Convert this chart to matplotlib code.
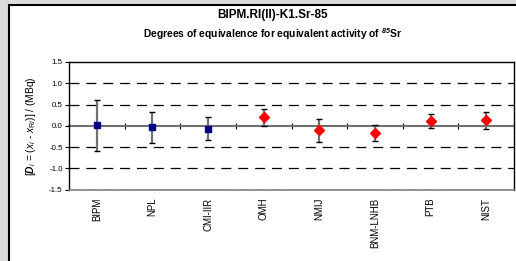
import numpy as np
import matplotlib
matplotlib.use("Agg")
import matplotlib.pyplot as plt
from matplotlib.patches import Rectangle

plt.rcParams['font.family'] = ['Liberation Sans', 'DejaVu Sans']
plt.rcParams['mathtext.fontset'] = 'custom'
plt.rcParams['mathtext.rm'] = 'Liberation Sans'
plt.rcParams['mathtext.it'] = 'Liberation Sans:italic'
plt.rcParams['mathtext.bf'] = 'Liberation Sans:bold:italic'

labs = ['BIPM', 'NPL', 'CMI-IIR', 'OMH', 'NMIJ', 'BNM-LNHB', 'PTB', 'NIST']
doe = [0.01, -0.04, -0.07, 0.195, -0.11, -0.17, 0.11, 0.125]
unc = [0.60, 0.36, 0.27, 0.195, 0.27, 0.18, 0.16, 0.21]
n_blue = 3  # first three drawn as blue squares

fig = plt.figure(figsize=(5.16, 2.61), dpi=100)
fig.patch.set_facecolor('#dcdcdc')
# white chart frame (cut off on right and bottom)
fig.patches.append(Rectangle((9/516, -0.05), 1.1, 1 - 5/261 + 0.05,
                             transform=fig.transFigure, facecolor='white',
                             edgecolor='black', linewidth=1.5, zorder=-5))

ax = fig.add_axes([69/516, 1 - 189.5/261, 445/516, 127.5/261])
ax.set_zorder(2)
ax.patch.set_alpha(0)
x = np.arange(1, len(labs) + 1)

for i in range(len(labs)):
    blue = i < n_blue
    ax.errorbar(x[i], doe[i], yerr=unc[i], fmt='none', ecolor='#707070',
                elinewidth=1.6, capsize=0, zorder=3)
    ax.errorbar(x[i], doe[i], yerr=unc[i], fmt='none', ecolor='black',
                elinewidth=0, capsize=2.5, capthick=1, zorder=3)
    if blue:
        ax.plot(x[i], doe[i], 's', color='#000080', ms=4.5, zorder=4)
    else:
        ax.plot(x[i], doe[i], 'D', color='#ff0000', ms=4.8, zorder=4)

ax.set_xlim(0.5, len(labs) + 0.5)
ax.set_ylim(-1.5, 1.5)
ax.set_yticks([-1.5, -1.0, -0.5, 0.0, 0.5, 1.0, 1.5])
ax.set_yticklabels(['-1.5', '-1.0', '-0.5', '0.0', '0.5', '1.0', '1.5'])
for yv in [-1.5, -1.0, -0.5, 0.5, 1.0]:
    ax.axhline(yv, color='black', lw=0.9, ls=(0, (8, 5.5)), zorder=1)
ax.tick_params(axis='y', labelsize=5.7, length=3, width=0.8, pad=1.5)

ax.set_xticks(x)
ax.set_xticklabels(labs, rotation=90, fontsize=7)
ax.tick_params(axis='x', length=0, pad=6)

# zero axis with category ticks
zax = ax.secondary_xaxis(0.5)
zax.set_xticks(np.arange(1.5, len(labs) + 1.5, 1.0))
zax.tick_params(axis='x', direction='inout', length=5, width=0.8,
                color='black', labelbottom=False, labeltop=False)
zax.spines['top'].set_color('#707070')
zax.spines['bottom'].set_color('#707070')
zax.spines['top'].set_linewidth(1.5)
zax.spines['bottom'].set_linewidth(1.5)

for s in ['top', 'left', 'right']:
    ax.spines[s].set_linewidth(1.0)
ax.spines['bottom'].set_color('#808080')
ax.spines['bottom'].set_linewidth(1.2)

ax.set_ylabel(r'[$\mathbf{D}_{\mathit{i}}$ = ($\mathit{x}_{\mathit{i}}$ - $\mathit{x}_{\mathrm{R}\mathit{i}}$)] / (MBq)',
              fontsize=7.4, labelpad=8)

fig.text(273/516, 1 - 15/261, 'BIPM.RI(II)-K1.Sr-85', ha='center', va='center',
         fontsize=8.5, fontweight='bold')
fig.text(273/516, 1 - 34/261, r'Degrees of equivalence for equivalent activity of $^{\mathbf{85}}$Sr',
         ha='center', va='center', fontsize=7.4, fontweight='bold')

fig.savefig('out.png', dpi=100)
